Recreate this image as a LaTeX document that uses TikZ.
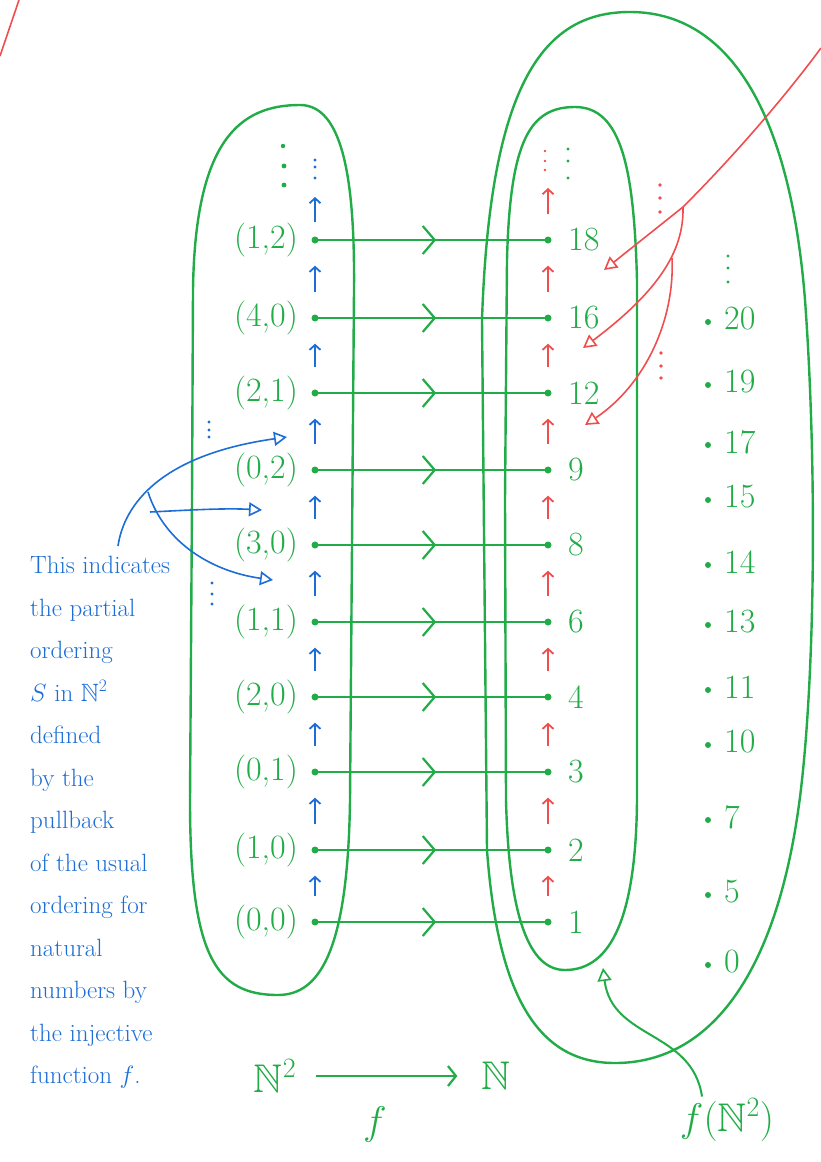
\RequirePackage{fix-cm}
\documentclass[tikz,border=0pt]{standalone}
\usepackage{amsmath,amssymb}
\usepackage{tikz}
\usetikzlibrary{arrows.meta,calc,positioning,decorations.markings}

\definecolor{pengreen}{RGB}{34,172,72}
\definecolor{penblue}{RGB}{28,110,214}
\definecolor{penred}{RGB}{240,78,78}

\tikzset{
  oval/.style={pengreen, line width=2.4pt},
  gdot/.style={circle, fill=pengreen, inner sep=0pt, minimum size=7pt},
  glab/.style={text=pengreen, font=\fontsize{34}{40}\selectfont, inner sep=2pt},
  biglab/.style={text=pengreen, font=\fontsize{40}{46}\selectfont, inner sep=2pt},
  maparrow/.style={pengreen, line width=2.2pt, postaction={decorate},
    decoration={markings, mark=at position 0.52 with {\arrow{Straight Barb[length=12pt,width=28pt,line width=2.2pt]}}}},
  blueup/.style={penblue, line width=1.8pt, -{Straight Barb[length=5pt,width=11pt]}, shorten <=22pt, shorten >=22pt},
  redup/.style={penred, line width=1.8pt, -{Straight Barb[length=5pt,width=11pt]}, shorten <=22pt, shorten >=22pt},
  pointer/.style={line width=1.6pt, -{Triangle[open,length=13pt,width=14pt,line width=1.6pt]}},
}

\begin{document}
\begin{tikzpicture}[x=1pt,y=-1pt]
  \useasboundingbox[fill=white] (0,0) rectangle (821,1162);

  % the three sets
  \draw[oval] (192,500) -- (193,290) .. controls (195,140) and (240,105) .. (300,105)
    .. controls (343,105) and (355,180) .. (354,290) -- (350,800)
    .. controls (348,945) and (322,995) .. (278,995)
    .. controls (215,995) and (190,955) .. (190,800) -- cycle;
  \draw[oval] (505,500) -- (507,260) .. controls (510,140) and (530,107) .. (575,107)
    .. controls (622,107) and (634,170) .. (637,280) -- (637,800)
    .. controls (636,915) and (612,970) .. (565,970)
    .. controls (530,970) and (509,920) .. (506,800) -- cycle;
  \draw[oval] (482,320) .. controls (490,80) and (545,12) .. (630,12)
    .. controls (728,12) and (790,110) .. (805,300)
    .. controls (816,450) and (816,650) .. (802,780)
    .. controls (782,965) and (715,1063) .. (615,1063)
    .. controls (540,1063) and (498,1000) .. (487,850) -- cycle;

  % rows of f
  \foreach \y/\pair/\num [count=\i] in {240/{(1,2)}/18, 318/{(4,0)}/16, 393/{(2,1)}/12, 470/{(0,2)}/9, 545/{(3,0)}/8, 622/{(1,1)}/6, 697/{(2,0)}/4, 772/{(0,1)}/3, 850/{(1,0)}/2, 922/{(0,0)}/1} {
    \node[gdot] (l\i) at (315,\y) {};
    \node[glab, anchor=east] (pl\i) at (300,\y) {\pair};
    \node[gdot] (r\i) at (548,\y) {};
    \node[glab, anchor=west] (nl\i) at (566,\y) {\num};
    \draw[maparrow] (l\i.center) -- (r\i.center);
  }

  % order arrows
  \coordinate (lmore) at (315,197);
  \coordinate (rmore) at (548,188);
  \foreach \i [evaluate=\i as \j using int(\i-1)] in {2,...,10} {
    \draw[blueup] (l\i) -- (l\j);
    \draw[redup] (r\i) -- (r\j);
  }
  \draw[blueup, shorten >=0pt, shorten <=14pt] (l1) -- (lmore);
  \draw[redup, shorten >=0pt, shorten <=22pt] (r1) -- (rmore);

  % rest of N
  \foreach \y/\num [count=\i] in {322/20, 385/19, 445/17, 500/15, 565/14, 625/13, 690/11, 745/10, 820/7, 895/5, 965/0} {
    \node[gdot, minimum size=6pt] (o\i) at (708,\y) {};
    \node[glab, anchor=west] (ol\i) at (722,\y-3) {\num};
  }

  % ellipses
  \foreach \y in {166,185} \fill[pengreen] (284,\y) circle (2.4pt);
  \fill[pengreen] (283,146) circle (2.2pt);
  \foreach \y in {160,167,178} \fill[penblue] (315,\y) circle (1.6pt);
  \foreach \y in {151,161,170} \fill[penred] (545,\y) circle (1.4pt);
  \foreach \y in {149,161,178} \fill[pengreen] (568,\y) circle (1.6pt);
  \foreach \y in {185,198,212} \fill[penred] (660,\y) circle (1.8pt);
  \foreach \y in {353,366,378} \fill[penred] (661,\y) circle (1.8pt);
  \foreach \y in {256,268,282} \fill[pengreen] (728,\y) circle (1.6pt);
  \foreach \y in {422,430,437} \fill[penblue] (209,\y) circle (1.6pt);
  \foreach \y in {583,594,604} \fill[penblue] (212,\y) circle (1.6pt);

  % red pointers to the order on f(N^2)
  \draw[penred, line width=1.6pt] (0,56) -- (19,0);
  \coordinate (rsrc) at (821,48);
  \coordinate (rfork) at (683,207);
  \coordinate (rforkb) at (672,258);
  \coordinate (tipA) at (604,270);
  \coordinate (tipB) at (583,348);
  \coordinate (tipC) at (585,425);
  \draw[pointer, penred] (rsrc) .. controls (790,90) and (740,150) .. (rfork) -- (tipA);
  \draw[pointer, penred] (rfork) .. controls (684,250) and (660,290) .. (tipB);
  \draw[pointer, penred] (rforkb) .. controls (675,320) and (645,385) .. (tipC);

  % blue note
  \node[text=penblue, font=\fontsize{25}{42.5}\selectfont, align=left, anchor=north west, inner sep=0pt] (note) at (30,556) {This indicates\\the partial\\ordering\\$S$ in $\mathbb{N}^2$\\defined\\by the\\pullback\\of the usual\\ordering for\\natural\\numbers by\\the injective\\function $f$.};
  \coordinate (bsrc) at (118,546);
  \coordinate (bfork) at (150,512);
  \coordinate (bforkb) at (148,492);
  \coordinate (tipD) at (287,437);
  \coordinate (tipE) at (262,510);
  \coordinate (tipF) at (273,580);
  \draw[pointer, penblue] (bsrc) .. controls (124,505) and (160,455) .. (tipD);
  \draw[pointer, penblue] (bfork) .. controls (190,510) and (225,508) .. (tipE);
  \draw[pointer, penblue] (bforkb) .. controls (165,545) and (215,572) .. (tipF);

  % f : N^2 -> N
  \node[biglab] (Nsq) at (275,1076) {$\mathbb{N}^2$};
  \node[biglab] (Nset) at (496,1076) {$\mathbb{N}$};
  \draw[pengreen, line width=2.2pt, -{Straight Barb[length=8pt,width=20pt]}, shorten <=18pt, shorten >=22pt] (Nsq.east) -- (Nset.west);
  \node[biglab] (fname) at (375,1124) {$f$};

  % f(N^2)
  \node[biglab] (fimg) at (727,1120) {$f(\mathbb{N}^2)$};
  \coordinate (tipG) at (603,968);
  \draw[pointer, pengreen, line width=2pt] ([xshift=-25pt]fimg.north) .. controls (692,1030) and (612,1040) .. (tipG);
\end{tikzpicture}
\end{document}
